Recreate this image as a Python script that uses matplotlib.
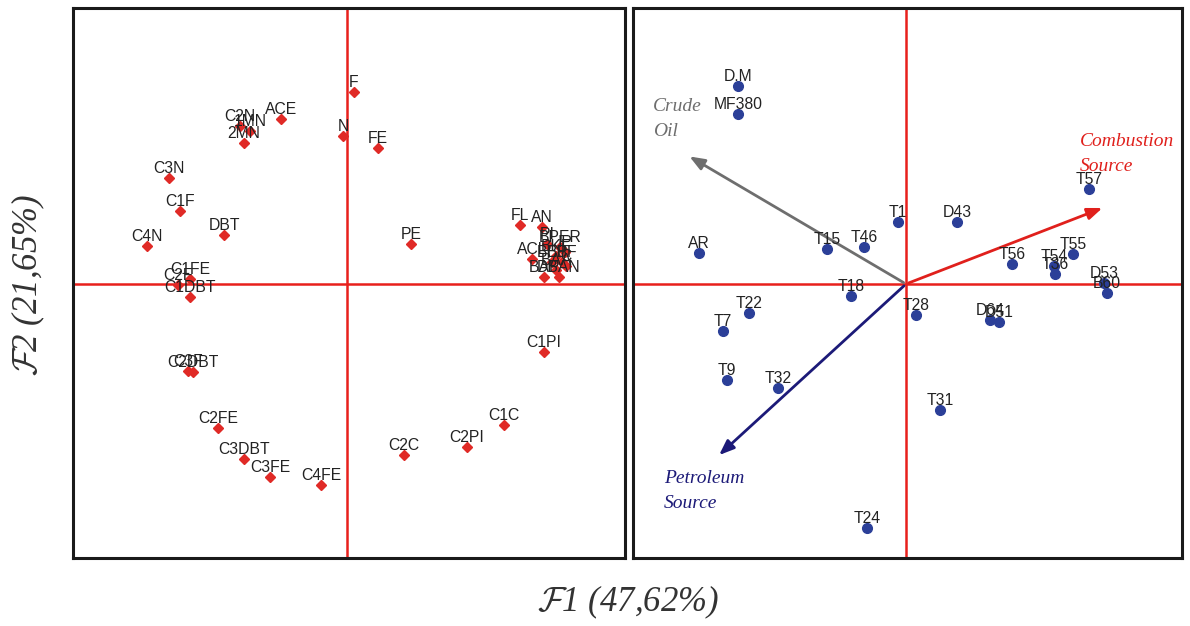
import numpy as np
import matplotlib
matplotlib.use("Agg")
import matplotlib.pyplot as plt

plt.rcParams['mathtext.fontset'] = 'cm'
plt.rcParams['font.family'] = ['Liberation Sans', 'DejaVu Sans']

#%%
# compound loadings (F1, F2)
cmp_labels = ['F', 'ACE', 'C2N', '1MN', '2MN', 'N', 'FE', 'C3N', 'C1F', 'DBT',
              'C4N', 'PE', 'C1FE', 'C2F', 'C1DBT', 'C2DBT', 'C3F', 'C2FE',
              'C3DBT', 'C3FE', 'C4FE', 'C2C', 'C2PI', 'C1C', 'C1PI',
              'FL', 'AN', 'PI', 'ACL', 'BAP', 'DBAN',
              'BPER', 'IP', 'BKF', 'BBF', 'C', 'BEP', 'BAA']
cmp_f1 = [0.14, -1.32, -2.14, -1.94, -2.06, -0.08, 0.62, -3.56, -3.34, -2.46,
          -4.00, 1.28, -3.14, -3.38, -3.14, -3.08, -3.18, -2.58,
          -2.06, -1.54, -0.52, 1.14, 2.40, 3.14, 3.94,
          3.46, 3.90, 4.00, 3.70, 3.94, 4.24,
          4.26, 4.36, 4.18, 4.30, 4.38, 4.10, 4.18]
cmp_f2 = [3.84, 3.30, 3.16, 3.06, 2.82, 2.96, 2.72, 2.12, 1.46, 0.98,
          0.76, 0.80, 0.10, -0.02, -0.26, -1.76, -1.74, -2.88,
          -3.50, -3.86, -4.02, -3.42, -3.26, -2.82, -1.36,
          1.18, 1.14, 0.80, 0.50, 0.14, 0.14,
          0.74, 0.64, 0.56, 0.44, 0.36, 0.44, 0.28]

# sample scores (F1, F2)
smp_labels = ['D.M', 'MF380', 'AR', 'T15', 'T46', 'T1', 'D43', 'T57', 'T55',
              'T56', 'T54', 'T36', 'D53', 'B60', 'T18', 'T28', 'D64', 'D51',
              'T22', 'T7', 'T9', 'T32', 'T31', 'T24']
smp_f1 = [-3.36, -3.36, -4.14, -1.58, -0.84, -0.16, 1.02, 3.66, 3.34,
          2.12, 2.96, 2.98, 3.96, 4.02, -1.10, 0.20, 1.68, 1.86,
          -3.14, -3.66, -3.58, -2.56, 0.68, -0.78]
smp_f2 = [3.96, 3.40, 0.62, 0.70, 0.74, 1.24, 1.24, 1.90, 0.60,
          0.40, 0.36, 0.20, 0.02, -0.18, -0.24, -0.62, -0.72, -0.76,
          -0.58, -0.94, -1.92, -2.08, -2.52, -4.88]

# source directions
src_names = ['Crude\nOil', 'Combustion\nSource', 'Petroleum\nSource']
src_dx = [-4.38, 3.98, -3.78]
src_dy = [2.58, 1.54, -3.46]
src_colors = ['#6e6e6e', '#e0201c', '#1c1a78']
src_text_xy = [(-5.06, 3.72), (3.48, 3.02), (-4.84, -3.72)]

#%%
fig = plt.figure(figsize=(11.9, 6.26), dpi=100)
W, H = 1190., 626.
ax1 = fig.add_axes([73/W, 68/H, 552/W, 550/H])
ax2 = fig.add_axes([633/W, 68/H, 549/W, 550/H])

for ax in (ax1, ax2):
    ax.axhline(0, color='#e8201c', lw=1.8, zorder=1)
    ax.axvline(0, color='#e8201c', lw=1.8, zorder=1)
    ax.set_xticks([])
    ax.set_yticks([])
    for s in ax.spines.values():
        s.set_linewidth(2.2)
        s.set_color('#1a1a1a')

ax1.set_xlim(-5.48, 5.56)
ax1.set_ylim(-5.48, 5.52)
ax2.set_xlim(-5.46, 5.52)
ax2.set_ylim(-5.48, 5.52)

ax1.plot(cmp_f1, cmp_f2, ls='', marker='D', ms=4.8, color='#e02a26', mec='#e02a26', zorder=3)
for lab, x, y in zip(cmp_labels, cmp_f1, cmp_f2):
    ax1.annotate(lab, (x, y), xytext=(0, 3.8), textcoords='offset points',
                 ha='center', va='baseline', fontsize=11.3, color='#222222', zorder=4)

ax2.plot(smp_f1, smp_f2, ls='', marker='o', ms=7, color='#2b3f98', mec='#2b3f98', zorder=3)
for lab, x, y in zip(smp_labels, smp_f1, smp_f2):
    ax2.annotate(lab, (x, y), xytext=(0, 3.8), textcoords='offset points',
                 ha='center', va='baseline', fontsize=11.3, color='#222222', zorder=4)

for name, dx, dy, c, (tx, ty) in zip(src_names, src_dx, src_dy, src_colors, src_text_xy):
    ax2.annotate('', xy=(dx, dy), xytext=(0, 0),
                 arrowprops=dict(arrowstyle='-|>,head_length=0.9,head_width=0.35',
                                 color=c, lw=2), zorder=2)
    ax2.text(tx, ty, name, ha='left', va='top', fontsize=14, color=c,
             family='Liberation Serif', style='italic', linespacing=1.6)

fig.text(628/W, 1 - 602/H, r'$\mathcal{F}$1 (47,62%)', ha='center', va='center',
         fontsize=25, family='Liberation Serif', style='italic', color='#333333')
fig.text(28/W, 1 - 285/H, r'$\mathcal{F}$2 (21,65%)', ha='center', va='center',
         rotation=90, fontsize=25, family='Liberation Serif', style='italic', color='#333333')

fig.savefig('out.png', dpi=100)
